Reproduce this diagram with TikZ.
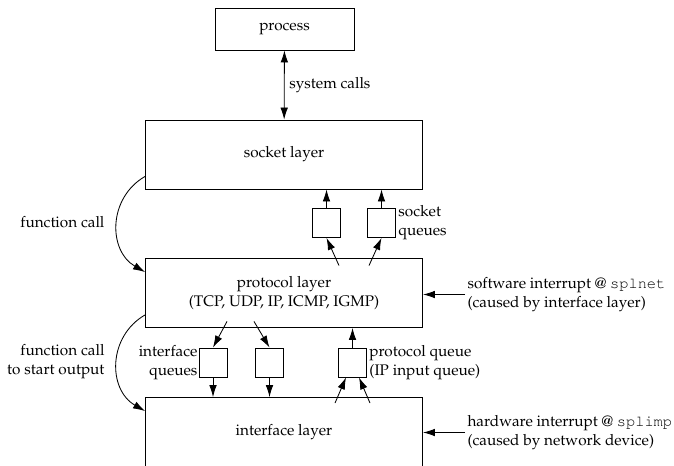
\documentclass[tikz,border=0pt]{standalone}
\usepackage[T1]{fontenc}
\renewcommand{\rmdefault}{ppl}
\renewcommand{\ttdefault}{pcr}
\usetikzlibrary{arrows.meta,calc}

\begin{document}
\begin{tikzpicture}[x=0.025cm,y=-0.025cm,
						font=\fontsize{10.9}{13.6}\selectfont,
						line width=0.6pt,
						>={Latex[length=3mm,width=1.9mm]},
						layer/.style={draw,minimum width=6.925cm,minimum height=1.725cm,align=center,inner sep=0pt},
						queue/.style={draw,minimum width=0.7cm,minimum height=0.725cm,inner sep=0pt},
						lbl/.style={inner sep=1.5pt}]

		\clip (0,0) rectangle (674,465);

		\node [draw,minimum width=3.475cm,minimum height=1.05cm] (proc) at (284.5,29) {process};
		\node [layer] (sock) at (284,154.5) {socket layer};
		\node [layer] (prot) at (284,293) {protocol layer\\(TCP, UDP, IP, ICMP, IGMP)};
		\node [layer] (intf) at (284,432) {interface layer};

		\node [queue] (sq1) at (326.5,223) {};
		\node [queue] (sq2) at (381.5,223) {};
		\node [queue] (iq1) at (213,362.5) {};
		\node [queue] (iq2) at (269.5,362.5) {};
		\node [queue] (pq) at (352.5,362.5) {};

		\node [lbl,anchor=west,align=left] (sqlbl) at (sq2.east) {socket\\queues};
		\node [lbl,inner sep=0.5pt,anchor=east,align=right] (iqlbl) at (iq1.west) {interface\\queues};
		\node [lbl,anchor=west,align=left] (pqlbl) at (pq.east) {protocol queue\\(IP input queue)};
		\node [lbl,anchor=east] (fc1) at (107,222) {function call};
		\node [lbl,anchor=east,align=right] (fc2) at (107,361.5) {function call\\to start output};
		\node [lbl,anchor=west,align=left] (sw) at (465,294.5) {software interrupt @ \texttt{splnet}\\(caused by interface layer)};
		\node [lbl,anchor=west,align=left] (hw) at (465,432.5) {hardware interrupt @ \texttt{splimp}\\(caused by network device)};

		\draw [<->] (proc) -- node [right] {system calls} (sock);
		\draw [->] (sq1) -- (sq1 |- sock.south);
		\draw [->] (sq2) -- (sq2 |- sock.south);
		\draw [->] ($(prot.north)+(55,7.5)$) -- (sq1.south);
		\draw [->] ($(prot.north)+(85,7.5)$) -- (sq2.south);
		\draw [->] ($(prot.south)+(-57,-6.5)$) -- (iq1.north);
		\draw [->] ($(prot.south)+(-30,-6.5)$) -- (iq2.north);
		\draw [->] (iq1) -- (iq1 |- intf.north);
		\draw [->] (iq2) -- (iq2 |- intf.north);
		\draw [->] (pq) -- (pq |- prot.south);
		\draw [->] ($(intf.north)+(51,6)$) -- ($(pq.south)+(-6.5,0)$);
		\draw [->] ($(intf.north)+(86,6)$) -- ($(pq.south)+(6.5,0)$);
		\draw [->] ($(sock.south west)+(0,-13)$) to [out=210,in=150,looseness=1.15] ($(prot.north west)+(0,14)$);
		\draw [->] ($(prot.south west)+(0,-13)$) to [out=210,in=150,looseness=1.15] ($(intf.north west)+(0,14)$);
		\draw [->] (sw.west) -- (sw.west -| prot.east);
		\draw [->] (hw.west) -- (hw.west -| intf.east);

	\end{tikzpicture}
\end{document}
